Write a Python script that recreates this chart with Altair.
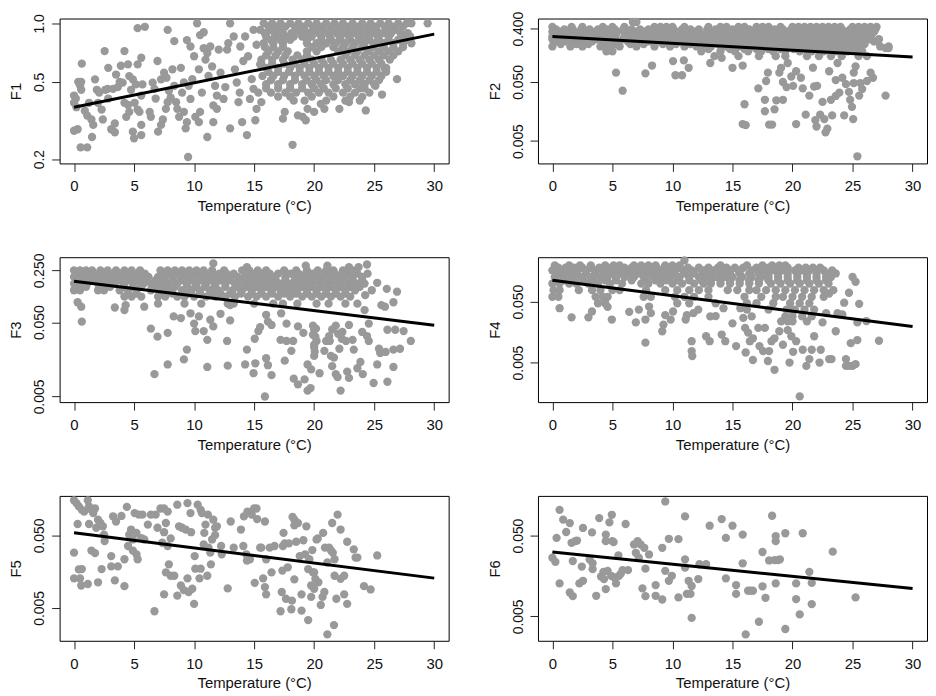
import altair as alt
import pandas as pd

TEMP_TICKS = [0, 5, 10, 15, 20, 25, 30]
TEMP_DOMAIN = [-1.2, 31.2]

# ---------------- F1 ----------------
F1_points = [
    (0.0, 0.28), (0.3, 0.285), (0.0, 0.425), (0.0, 0.39), (0.15, 0.41), (0.2, 0.37), (0.35, 0.5), (0.6, 0.5),
    (0.5, 0.48), (0.6, 0.455), (0.65, 0.62), (0.55, 0.23), (1.1, 0.23), (0.9, 0.355), (1.1, 0.335), (1.25, 0.39),
    (1.5, 0.26), (1.45, 0.32), (1.6, 0.3), (1.75, 0.515), (1.9, 0.455), (2.1, 0.44), (2.0, 0.39), (2.3, 0.36),
    (2.4, 0.32), (2.55, 0.72), (2.6, 0.455), (2.85, 0.41), (2.8, 0.46), (2.85, 0.59), (3.1, 0.285), (3.4, 0.275),
    (3.4, 0.305), (3.25, 0.46), (3.5, 0.545), (3.65, 0.47), (3.8, 0.5), (4.05, 0.495), (4.2, 0.72), (4.5, 0.615),
    (3.9, 0.605), (4.2, 0.39), (4.35, 0.33), (4.5, 0.38), (4.6, 0.35), (4.6, 0.535), (4.9, 0.515), (5.15, 0.485),
    (4.75, 0.455), (4.9, 0.277), (5.0, 0.256), (5.6, 0.266), (5.05, 0.39), (5.3, 0.36), (5.45, 0.35), (5.6, 0.3),
    (5.3, 0.945), (5.9, 0.96), (5.3, 0.615), (5.6, 0.665), (5.7, 0.485), (5.6, 0.425),
    (6.3, 0.35), (6.4, 0.33), (6.55, 0.495), (6.7, 0.46), (6.8, 0.41), (6.95, 0.64), (7.0, 0.277), (7.25, 0.3),
    (7.4, 0.32), (7.25, 0.515), (7.5, 0.557), (7.7, 0.525), (7.65, 0.363), (7.8, 0.393), (8.05, 0.415), (7.8, 0.925),
    (7.9, 0.45), (8.2, 0.58), (8.35, 0.477), (8.35, 0.81), (8.5, 0.393), (8.6, 0.363), (8.75, 0.33), (8.9, 0.59),
    (9.0, 0.44), (9.15, 0.496), (9.15, 0.35), (9.3, 0.288), (9.4, 0.31), (9.4, 0.82), (9.7, 0.76), (9.55, 0.477),
    (9.7, 0.408), (9.85, 0.516), (9.5, 0.205), (10.0, 0.677), (10.25, 1.0), (10.1, 0.33), (10.4, 0.31), (10.5, 0.35),
    (10.4, 0.58), (10.5, 0.87), (10.8, 0.9), (10.65, 0.44), (10.8, 0.745), (10.95, 0.651), (11.1, 0.704), (11.1, 0.26),
    (11.2, 0.536), (11.35, 0.76), (11.5, 0.6), (11.6, 0.31), (11.6, 0.378), (11.9, 0.363), (11.75, 0.477), (12.05, 0.732),
    (12.2, 0.557), (11.9, 0.425),
    (12.45, 0.408), (12.6, 0.47), (12.75, 0.732), (13.0, 1.0), (12.85, 0.79), (13.0, 0.288), (13.3, 0.856), (13.4, 0.58),
    (13.55, 0.496), (13.7, 0.393), (13.8, 0.44), (13.85, 0.76), (14.0, 0.31), (14.1, 0.64), (14.25, 0.856), (14.4, 0.266),
    (14.5, 0.677), (14.65, 0.408), (14.8, 0.516), (14.95, 0.46), (14.95, 0.925), (15.1, 0.317), (15.2, 0.776), (15.35, 0.44),
    (15.5, 0.615), (15.2, 0.363), (15.6, 0.393),
    (17.4, 0.323), (17.55, 0.35), (18.2, 0.237), (18.65, 0.336), (19.05, 0.33), (19.3, 0.317), (19.45, 0.363), (20.0, 0.35),
    (20.55, 0.385), (20.85, 0.363), (22.1, 0.363), (22.9, 0.393), (24.3, 0.356), (24.0, 0.418), (25.65, 0.43), (26.9, 0.516),
    (25.1, 0.477), (25.9, 0.58), (29.45, 1.0),
    (15.8, 1.0), (16.5, 1.0), (17.2, 1.0), (18.0, 1.0), (18.7, 1.0), (19.5, 1.0), (20.2, 1.0), (21.0, 1.0), (21.7, 1.0),
    (22.4, 1.0), (23.2, 1.0), (24.0, 1.0), (24.7, 1.0), (25.5, 1.0), (26.2, 1.0), (27.0, 1.0), (27.7, 1.0), (28.1, 1.0),
    (16.2, 0.962), (16.9, 0.962), (17.6, 0.962), (18.4, 0.962), (19.1, 0.962), (19.9, 0.962), (20.6, 0.962), (21.4, 0.962),
    (22.1, 0.962), (22.8, 0.962), (23.6, 0.962), (24.4, 0.962), (25.1, 0.962), (25.9, 0.962), (26.6, 0.962), (27.4, 0.962),
    (15.5, 0.925), (16.3, 0.925), (17.0, 0.925), (18.5, 0.925), (19.2, 0.925), (20.0, 0.925), (20.8, 0.925), (21.5, 0.925),
    (22.2, 0.925), (23.0, 0.925), (23.8, 0.925), (24.5, 0.925), (25.2, 0.925), (26.0, 0.925), (26.8, 0.925),
    (15.9, 0.89), (16.7, 0.89), (17.4, 0.89), (18.1, 0.89), (18.9, 0.89), (19.6, 0.89), (20.4, 0.89), (21.2, 0.89),
    (21.9, 0.89), (22.6, 0.89), (23.4, 0.89), (24.2, 0.89), (24.9, 0.89), (25.7, 0.89), (26.4, 0.89), (27.2, 0.89), (27.8, 0.89),
    (16.0, 0.856), (16.8, 0.856), (17.6, 0.856), (18.3, 0.856), (19.0, 0.856), (19.8, 0.856), (20.6, 0.856), (21.3, 0.856),
    (22.1, 0.856), (22.9, 0.856), (23.7, 0.856), (24.4, 0.856), (25.3, 0.856), (26.2, 0.856), (27.3, 0.856), (28.0, 0.856),
    (16.4, 0.823), (17.2, 0.823), (18.0, 0.823), (19.4, 0.823), (20.6, 0.823), (21.4, 0.823), (22.2, 0.823),
    (23.0, 0.823), (23.8, 0.823), (24.6, 0.823), (25.4, 0.823), (26.2, 0.823), (27.0, 0.823), (27.8, 0.823),
    (15.8, 0.79), (16.6, 0.79), (17.4, 0.79), (19.4, 0.79), (20.2, 0.79), (21.0, 0.79), (21.8, 0.79),
    (22.6, 0.79), (23.4, 0.79), (24.2, 0.79), (25.0, 0.79), (25.8, 0.79), (26.6, 0.79), (27.4, 0.79), (28.1, 0.79),
    (15.9, 0.754), (16.6, 0.754), (17.4, 0.754), (19.8, 0.754), (20.6, 0.754), (21.6, 0.754), (22.4, 0.754),
    (23.2, 0.754), (24.0, 0.754), (24.9, 0.754), (25.8, 0.754), (26.6, 0.754), (27.4, 0.754),
    (16.2, 0.718), (17.0, 0.718), (17.8, 0.718), (19.4, 0.718), (20.2, 0.718), (22.0, 0.718),
    (22.8, 0.718), (23.6, 0.718), (24.5, 0.718), (25.4, 0.718), (26.2, 0.718), (27.0, 0.718),
    (16.0, 0.684), (16.8, 0.684), (17.6, 0.684), (18.6, 0.684), (19.4, 0.684), (22.6, 0.684),
    (23.4, 0.684), (24.2, 0.684), (25.0, 0.684), (25.8, 0.684), (26.6, 0.684),
    (15.6, 0.651), (16.5, 0.651), (17.4, 0.651), (18.2, 0.651), (19.0, 0.651), (19.8, 0.651), (20.6, 0.651), (21.4, 0.651),
    (22.2, 0.651), (23.0, 0.651), (23.8, 0.651), (24.6, 0.651), (25.4, 0.651), (26.3, 0.651),
    (15.6, 0.62), (16.5, 0.62), (17.5, 0.62), (18.4, 0.62), (19.2, 0.62), (20.0, 0.62), (20.8, 0.62), (21.6, 0.62),
    (22.4, 0.62), (23.2, 0.62), (24.0, 0.62), (24.8, 0.62), (25.6, 0.62),
    (16.0, 0.59), (17.0, 0.59), (18.0, 0.59), (18.8, 0.59), (19.6, 0.59), (20.4, 0.59), (21.2, 0.59), (22.0, 0.59),
    (22.8, 0.59), (23.6, 0.59), (24.4, 0.59), (25.2, 0.59), (26.0, 0.59),
    (16.2, 0.563), (17.0, 0.563), (17.9, 0.563), (18.8, 0.563), (19.6, 0.563), (20.4, 0.563), (21.2, 0.563), (22.0, 0.563),
    (22.8, 0.563), (23.6, 0.563), (24.4, 0.563), (25.2, 0.563), (26.0, 0.563),
    (15.7, 0.536), (16.6, 0.536), (17.5, 0.536), (18.4, 0.536), (19.2, 0.536), (20.0, 0.536), (20.8, 0.536), (21.6, 0.536),
    (22.4, 0.536), (23.2, 0.536), (24.0, 0.536), (24.8, 0.536), (25.6, 0.536),
    (16.4, 0.51), (17.4, 0.51), (18.4, 0.51), (19.4, 0.51), (20.2, 0.51), (21.0, 0.51), (22.0, 0.51), (23.0, 0.51),
    (23.8, 0.51), (24.6, 0.51), (25.4, 0.51),
    (16.0, 0.486), (17.0, 0.486), (18.0, 0.486), (19.0, 0.486), (19.8, 0.486), (20.6, 0.486), (21.6, 0.486), (22.6, 0.486),
    (23.4, 0.486), (24.2, 0.486), (25.0, 0.486),
    (16.0, 0.463), (17.0, 0.463), (18.0, 0.463), (19.0, 0.463), (20.0, 0.463), (20.8, 0.463), (21.8, 0.463), (22.8, 0.463),
    (23.8, 0.463), (24.2, 0.463),
    (16.4, 0.44), (17.6, 0.44), (18.5, 0.44), (19.5, 0.44), (20.4, 0.44), (21.2, 0.44), (22.4, 0.44), (23.4, 0.44), (24.6, 0.44),
    (17.0, 0.42), (18.0, 0.42), (19.8, 0.42), (21.6, 0.42), (23.0, 0.42),
    (18.3, 0.40), (19.2, 0.40), (21.0, 0.40), (22.6, 0.40), (23.8, 0.40),
]
F1_fit = [0.37, 0.88]

# ---------------- F2 ----------------
F2_points = [
    (5.3, 0.072), (5.85, 0.0356), (7.75, 0.07), (8.3, 0.095), (10.05, 0.113), (10.25, 0.065), (10.8, 0.065), (10.95, 0.116),
    (11.35, 0.087), (13.15, 0.105), (14.1, 0.128), (15.0, 0.087), (15.85, 0.095), (16.0, 0.021), (15.85, 0.0097), (16.1, 0.0093),
    (17.15, 0.039), (17.7, 0.025), (17.7, 0.016), (17.8, 0.052), (17.95, 0.072), (18.05, 0.0095), (18.3, 0.0095), (18.5, 0.0172),
    (18.65, 0.0245), (18.9, 0.072), (19.05, 0.087), (19.2, 0.025), (19.2, 0.05), (19.5, 0.041), (19.6, 0.105), (19.9, 0.062),
    (20.05, 0.043), (20.3, 0.076), (20.3, 0.0097), (20.7, 0.059), (20.85, 0.039), (21.1, 0.014), (21.4, 0.0294), (21.7, 0.0873),
    (21.8, 0.042), (21.9, 0.0113), (22.0, 0.0088), (22.05, 0.043), (22.3, 0.014), (22.5, 0.023), (22.65, 0.0118), (22.75, 0.007),
    (22.9, 0.0081), (23.05, 0.076), (23.2, 0.025), (23.3, 0.0136), (23.6, 0.029), (23.6, 0.054), (23.75, 0.105), (23.9, 0.033),
    (24.15, 0.059), (24.3, 0.0136), (24.45, 0.046), (24.7, 0.034), (24.8, 0.025), (24.95, 0.019), (25.05, 0.0118), (25.1, 0.048),
    (25.1, 0.072), (25.25, 0.092), (25.4, 0.00276), (25.55, 0.0294), (25.65, 0.048), (25.8, 0.038), (26.2, 0.052), (26.5, 0.072),
    (26.7, 0.059), (27.75, 0.0294), (27.75, 0.188), (28.0, 0.188),
    (6.7, 0.52), (7.0, 0.52),
    (0.0, 0.43), (1.6, 0.43), (2.5, 0.43), (4.2, 0.43), (5.0, 0.43), (6.0, 0.43), (8.5, 0.43), (9.0, 0.43), (9.5, 0.43),
    (10.0, 0.43), (11.0, 0.43), (13.0, 0.43), (14.0, 0.43), (14.5, 0.43), (15.5, 0.43), (16.0, 0.43), (17.0, 0.43), (17.5, 0.43),
    (18.0, 0.43), (19.0, 0.43), (20.0, 0.43), (20.5, 0.43), (21.0, 0.43), (21.5, 0.43), (22.0, 0.43), (22.5, 0.43), (23.0, 0.43),
    (23.5, 0.43), (24.0, 0.43), (25.0, 0.43), (25.5, 0.43), (26.0, 0.43), (26.5, 0.43), (27.0, 0.43),
    (0.3, 0.39), (1.0, 0.39), (1.7, 0.39), (2.4, 0.39), (3.1, 0.39), (3.8, 0.39), (4.5, 0.39), (5.2, 0.39), (5.9, 0.39),
    (6.6, 0.39), (7.3, 0.39), (8.0, 0.39), (8.7, 0.39), (9.4, 0.39), (10.1, 0.39), (10.8, 0.39), (11.5, 0.39), (12.2, 0.39),
    (12.9, 0.39), (13.6, 0.39), (14.3, 0.39), (15.0, 0.39), (15.7, 0.39), (16.4, 0.39), (17.1, 0.39), (17.8, 0.39),
    (18.5, 0.39), (19.2, 0.39), (19.9, 0.39), (20.6, 0.39), (21.3, 0.39), (22.0, 0.39), (22.7, 0.39), (23.4, 0.39),
    (24.1, 0.39), (24.8, 0.39), (25.5, 0.39), (26.2, 0.39), (26.9, 0.39),
    (0.0, 0.356), (0.6, 0.356), (1.2, 0.356), (1.8, 0.356), (2.4, 0.356), (3.0, 0.356), (3.6, 0.356), (4.2, 0.356), (4.8, 0.356),
    (5.4, 0.356), (6.0, 0.356), (7.0, 0.356), (7.6, 0.356), (8.2, 0.356), (8.8, 0.356), (9.4, 0.356), (10.0, 0.356), (10.6, 0.356),
    (11.2, 0.356), (11.8, 0.356), (13.0, 0.356), (13.6, 0.356), (14.2, 0.356), (14.8, 0.356), (15.4, 0.356), (16.0, 0.356),
    (16.6, 0.356), (17.2, 0.356), (17.8, 0.356), (18.4, 0.356), (19.0, 0.356), (19.6, 0.356), (20.2, 0.356), (20.8, 0.356),
    (21.4, 0.356), (22.0, 0.356), (22.6, 0.356), (23.2, 0.356), (23.8, 0.356), (24.4, 0.356), (25.0, 0.356), (25.6, 0.356),
    (26.2, 0.356), (26.8, 0.356),
    (0.4, 0.32), (1.1, 0.32), (1.8, 0.32), (2.5, 0.32), (3.2, 0.32), (3.9, 0.32), (4.6, 0.32), (5.3, 0.32), (6.5, 0.32),
    (7.5, 0.32), (8.4, 0.32), (9.1, 0.32), (9.8, 0.32), (10.5, 0.32), (11.2, 0.32), (11.9, 0.32), (12.6, 0.32), (13.3, 0.32),
    (14.0, 0.32), (14.7, 0.32), (15.4, 0.32), (16.1, 0.32), (16.8, 0.32), (17.5, 0.32), (18.2, 0.32), (18.9, 0.32),
    (19.6, 0.32), (20.3, 0.32), (21.0, 0.32), (21.7, 0.32), (22.4, 0.32), (23.1, 0.32), (23.8, 0.32), (24.5, 0.32),
    (25.2, 0.32), (25.9, 0.32), (26.6, 0.32),
    (0.0, 0.294), (0.7, 0.294), (1.4, 0.294), (2.1, 0.294), (2.8, 0.294), (3.5, 0.294), (4.2, 0.294), (4.9, 0.294), (6.0, 0.294),
    (7.0, 0.294), (8.0, 0.294), (8.7, 0.294), (9.4, 0.294), (10.1, 0.294), (10.8, 0.294), (11.5, 0.294), (12.2, 0.294),
    (13.0, 0.294), (13.7, 0.294), (14.4, 0.294), (15.1, 0.294), (15.8, 0.294), (16.5, 0.294), (17.2, 0.294), (17.9, 0.294),
    (18.6, 0.294), (19.3, 0.294), (20.0, 0.294), (20.7, 0.294), (21.4, 0.294), (22.1, 0.294), (22.8, 0.294), (23.5, 0.294),
    (24.2, 0.294), (24.9, 0.294), (25.6, 0.294), (26.3, 0.294),
    (0.0, 0.265), (0.8, 0.265), (1.7, 0.265), (2.6, 0.265), (3.6, 0.265), (4.5, 0.265), (5.0, 0.265), (5.9, 0.265),
    (6.7, 0.265), (7.6, 0.265), (8.4, 0.265), (9.3, 0.265), (10.2, 0.265), (11.1, 0.265), (12.0, 0.265), (12.9, 0.265),
    (13.8, 0.265), (14.7, 0.265), (15.6, 0.265), (16.5, 0.265), (17.4, 0.265), (18.3, 0.265), (19.2, 0.265), (20.1, 0.265),
    (21.0, 0.265), (21.9, 0.265), (22.8, 0.265), (23.7, 0.265), (24.6, 0.265), (25.5, 0.265), (26.4, 0.265), (27.2, 0.265),
    (0.3, 0.243), (1.2, 0.243), (2.2, 0.243), (3.3, 0.243), (4.1, 0.243), (5.5, 0.243), (6.3, 0.243), (7.2, 0.243), (8.0, 0.243),
    (8.9, 0.243), (9.8, 0.243), (10.7, 0.243), (11.6, 0.243), (12.5, 0.243), (13.4, 0.243), (14.3, 0.243), (15.2, 0.243),
    (16.1, 0.243), (17.0, 0.243), (17.9, 0.243), (18.8, 0.243), (19.7, 0.243), (20.6, 0.243), (21.5, 0.243), (22.4, 0.243),
    (23.3, 0.243), (24.2, 0.243), (25.1, 0.243), (26.0, 0.243), (26.8, 0.243),
    (0.7, 0.22), (2.0, 0.22), (3.0, 0.22), (4.4, 0.22), (5.2, 0.22), (6.5, 0.22), (7.6, 0.22), (9.2, 0.22), (10.3, 0.22),
    (11.5, 0.22), (12.6, 0.22), (13.8, 0.22), (15.0, 0.22), (16.0, 0.22), (17.1, 0.22), (18.2, 0.22), (19.3, 0.22),
    (20.3, 0.22), (21.3, 0.22), (22.3, 0.22), (23.3, 0.22), (24.2, 0.22), (25.1, 0.22), (26.0, 0.22),
    (0.0, 0.2), (1.5, 0.2), (2.5, 0.2), (4.0, 0.2), (4.8, 0.2), (5.6, 0.2), (7.0, 0.2), (8.5, 0.2), (9.8, 0.2), (11.0, 0.2),
    (12.0, 0.2), (13.2, 0.2), (14.5, 0.2), (15.5, 0.2), (16.6, 0.2), (17.6, 0.2), (18.8, 0.2), (19.8, 0.2), (20.8, 0.2),
    (21.8, 0.2), (22.8, 0.2), (23.8, 0.2), (24.6, 0.2), (25.6, 0.2), (27.3, 0.2), (28.0, 0.2),
    (13.0, 0.18), (14.8, 0.18), (16.0, 0.18), (17.0, 0.18), (18.0, 0.18), (19.0, 0.18), (20.1, 0.18), (21.1, 0.18),
    (22.1, 0.18), (23.1, 0.18), (24.1, 0.18), (25.2, 0.18),
    (4.5, 0.166), (5.0, 0.166), (12.4, 0.166), (14.0, 0.166), (15.2, 0.166), (16.3, 0.166), (17.4, 0.166), (18.4, 0.166),
    (19.4, 0.166), (20.6, 0.166), (21.6, 0.166), (22.6, 0.166), (23.6, 0.166), (24.6, 0.166), (25.8, 0.166),
    (13.5, 0.137), (15.5, 0.137), (17.2, 0.137), (18.6, 0.137), (19.4, 0.137), (21.2, 0.137), (22.2, 0.137), (23.2, 0.137),
    (24.1, 0.137), (25.5, 0.137), (26.2, 0.137),
]
F2_fit = [0.294, 0.133]

# ---------------- F3 ----------------
F3_points = [
    (0.3, 0.093), (0.6, 0.081), (0.65, 0.051), (3.4, 0.079), (4.2, 0.073), (4.3, 0.085), (5.85, 0.081), (6.4, 0.041),
    (6.7, 0.01), (6.95, 0.032), (7.8, 0.036), (7.8, 0.0135), (8.3, 0.06), (8.9, 0.057), (9.15, 0.0158), (9.4, 0.0214),
    (9.7, 0.066), (10.0, 0.048), (10.1, 0.038), (10.4, 0.06), (10.8, 0.038), (11.1, 0.029), (11.1, 0.0125), (11.35, 0.054),
    (11.6, 0.044), (12.2, 0.065), (12.75, 0.028), (12.8, 0.013), (13.0, 0.053), (13.0, 0.085), (14.25, 0.0135), (14.4, 0.0214),
    (15.05, 0.03), (14.95, 0.0103), (15.1, 0.014), (15.35, 0.038), (15.5, 0.043), (15.9, 0.005), (16.0, 0.063), (16.0, 0.0164),
    (16.15, 0.051), (16.15, 0.0132), (16.45, 0.046), (16.45, 0.0097), (17.2, 0.029), (17.25, 0.066), (17.55, 0.0152),
    (17.7, 0.048), (17.7, 0.028), (18.1, 0.0206), (18.25, 0.028), (18.3, 0.0087), (18.65, 0.0073), (18.65, 0.044),
    (19.1, 0.036), (19.2, 0.0085), (19.45, 0.0135), (19.45, 0.006), (19.7, 0.0065), (19.75, 0.0116), (19.9, 0.034),
    (20.0, 0.025), (20.0, 0.0176), (20.15, 0.041), (20.45, 0.0103), (20.85, 0.0206), (21.0, 0.028), (21.25, 0.0326),
    (21.4, 0.0176), (21.5, 0.0128), (21.65, 0.0167), (21.8, 0.01), (21.95, 0.0091), (22.2, 0.006), (22.1, 0.022),
    (22.35, 0.037), (22.65, 0.028), (22.75, 0.0108), (22.9, 0.046), (22.9, 0.0089), (23.2, 0.029), (23.3, 0.0214),
    (23.6, 0.012), (23.85, 0.0146), (24.0, 0.037), (24.05, 0.01), (24.4, 0.0326), (24.55, 0.048), (24.55, 0.028),
    (24.95, 0.0076), (25.25, 0.0135), (25.4, 0.022), (25.5, 0.0193), (25.95, 0.0199), (26.1, 0.0079), (26.1, 0.0396),
    (26.6, 0.0125), (26.6, 0.0214), (26.75, 0.0396), (27.15, 0.022), (27.45, 0.038), (28.05, 0.028),
    (26.05, 0.141), (26.9, 0.129), (26.6, 0.093), (25.6, 0.085), (25.9, 0.081), (25.25, 0.17), (24.45, 0.226), (24.4, 0.3),
    (23.7, 0.277), (23.45, 0.166), (24.25, 0.116), (24.2, 0.073), (22.9, 0.277), (21.1, 0.29), (20.4, 0.226), (19.3, 0.29),
    (17.0, 0.226), (14.4, 0.277), (11.6, 0.31),
    (20.0, 0.04), (20.1, 0.032), (19.9, 0.045), (20.2, 0.028), (20.0, 0.023), (20.05, 0.02), (21.5, 0.04), (21.8, 0.045),
    (22.0, 0.035), (21.3, 0.028), (22.3, 0.03),
    (0.0, 0.25), (0.5, 0.25), (1.0, 0.25), (1.5, 0.25), (2.2, 0.25), (2.8, 0.25), (3.5, 0.25), (4.2, 0.25), (4.8, 0.25),
    (5.5, 0.25), (7.2, 0.25), (7.8, 0.25), (8.4, 0.25), (9.0, 0.25), (9.6, 0.25), (10.2, 0.25), (10.8, 0.25), (11.5, 0.25),
    (12.5, 0.25), (14.0, 0.25), (14.6, 0.25), (15.3, 0.25), (16.0, 0.25), (17.5, 0.25), (18.5, 0.25), (19.4, 0.25),
    (20.3, 0.25), (21.0, 0.25), (21.6, 0.25), (22.4, 0.25), (23.2, 0.25),
    (0.3, 0.226), (0.9, 0.226), (1.5, 0.226), (2.1, 0.226), (2.7, 0.226), (3.3, 0.226), (3.9, 0.226), (4.6, 0.226),
    (5.3, 0.226), (5.9, 0.226), (7.3, 0.226), (7.9, 0.226), (8.5, 0.226), (9.1, 0.226), (9.7, 0.226), (10.3, 0.226),
    (10.9, 0.226), (11.5, 0.226), (12.1, 0.226), (12.7, 0.226), (13.3, 0.226), (14.5, 0.226), (15.1, 0.226), (15.7, 0.226),
    (16.3, 0.226), (18.0, 0.226), (18.7, 0.226), (19.3, 0.226), (19.9, 0.226), (20.5, 0.226), (21.1, 0.226),
    (21.7, 0.226), (22.3, 0.226), (22.9, 0.226), (23.6, 0.226),
    (0.0, 0.204), (0.6, 0.204), (1.2, 0.204), (1.8, 0.204), (2.4, 0.204), (3.0, 0.204), (3.6, 0.204), (4.3, 0.204), (5.0, 0.204),
    (5.6, 0.204), (6.2, 0.204), (7.0, 0.204), (7.6, 0.204), (8.2, 0.204), (8.8, 0.204), (9.4, 0.204), (10.0, 0.204),
    (10.6, 0.204), (11.2, 0.204), (11.8, 0.204), (12.4, 0.204), (13.0, 0.204), (13.6, 0.204), (14.2, 0.204), (14.8, 0.204),
    (15.4, 0.204), (16.0, 0.204), (16.6, 0.204), (17.6, 0.204), (18.4, 0.204), (19.0, 0.204), (19.6, 0.204), (20.2, 0.204),
    (20.8, 0.204), (21.4, 0.204), (22.0, 0.204), (22.6, 0.204), (23.2, 0.204), (24.0, 0.204),
    (0.3, 0.184), (0.8, 0.184), (1.5, 0.184), (2.3, 0.184), (3.0, 0.184), (3.8, 0.184), (4.6, 0.184), (5.4, 0.184),
    (6.0, 0.184), (6.8, 0.184), (7.4, 0.184), (8.2, 0.184), (9.0, 0.184), (9.8, 0.184), (10.6, 0.184), (11.4, 0.184),
    (12.2, 0.184), (13.0, 0.184), (13.8, 0.184), (14.6, 0.184), (15.3, 0.184), (16.0, 0.184), (16.8, 0.184), (17.6, 0.184),
    (18.4, 0.184), (19.2, 0.184), (20.0, 0.184), (20.8, 0.184), (21.6, 0.184), (22.4, 0.184), (23.2, 0.184), (24.0, 0.184),
    (0.0, 0.166), (0.5, 0.166), (1.1, 0.166), (2.0, 0.166), (2.6, 0.166), (3.4, 0.166), (4.2, 0.166), (5.0, 0.166), (5.8, 0.166),
    (6.4, 0.166), (7.2, 0.166), (7.8, 0.166), (8.6, 0.166), (9.4, 0.166), (10.2, 0.166), (11.0, 0.166), (11.8, 0.166),
    (12.6, 0.166), (13.4, 0.166), (14.2, 0.166), (15.0, 0.166), (15.7, 0.166), (16.4, 0.166), (17.2, 0.166), (18.0, 0.166),
    (18.8, 0.166), (19.6, 0.166), (20.4, 0.166), (21.2, 0.166), (22.0, 0.166), (22.8, 0.166), (23.5, 0.166), (24.2, 0.166),
    (0.2, 0.15), (1.0, 0.15), (2.2, 0.15), (3.0, 0.15), (4.1, 0.15), (4.9, 0.15), (5.6, 0.15), (6.8, 0.15), (7.6, 0.15),
    (8.4, 0.15), (9.4, 0.15), (10.1, 0.15), (10.9, 0.15), (11.7, 0.15), (12.6, 0.15), (13.6, 0.15), (14.4, 0.15),
    (15.2, 0.15), (16.0, 0.15), (16.8, 0.15), (17.6, 0.15), (18.3, 0.15), (19.0, 0.15), (19.8, 0.15), (20.6, 0.15),
    (21.4, 0.15), (22.2, 0.15), (23.0, 0.15), (23.8, 0.15),
    (0.0, 0.135), (0.5, 0.135), (2.0, 0.135), (2.5, 0.135), (3.8, 0.135), (4.5, 0.135), (5.2, 0.135), (6.4, 0.135), (7.2, 0.135),
    (8.0, 0.135), (9.0, 0.135), (9.8, 0.135), (10.5, 0.135), (11.3, 0.135), (12.0, 0.135), (13.2, 0.135), (14.0, 0.135),
    (14.8, 0.135), (15.6, 0.135), (16.4, 0.135), (17.2, 0.135), (18.0, 0.135), (18.6, 0.135), (19.4, 0.135), (20.2, 0.135),
    (21.0, 0.135), (21.8, 0.135), (22.6, 0.135), (23.4, 0.135), (24.8, 0.135),
    (4.5, 0.122), (5.2, 0.122), (7.3, 0.122), (8.2, 0.122), (9.5, 0.122), (10.5, 0.122), (11.4, 0.122), (12.2, 0.122),
    (13.0, 0.122), (13.9, 0.122), (14.8, 0.122), (15.6, 0.122), (16.5, 0.122), (17.5, 0.122), (18.5, 0.122), (19.4, 0.122),
    (20.2, 0.122), (21.0, 0.122), (21.8, 0.122), (22.6, 0.122),
    (4.2, 0.111), (4.8, 0.111), (5.6, 0.111), (7.0, 0.111), (7.6, 0.111), (8.6, 0.111), (9.2, 0.111), (10.0, 0.111), (11.0, 0.111),
    (11.8, 0.111), (12.6, 0.111), (13.4, 0.111), (14.5, 0.111), (15.2, 0.111), (16.0, 0.111), (17.0, 0.111), (18.0, 0.111),
    (19.0, 0.111), (19.8, 0.111), (20.6, 0.111), (21.4, 0.111), (22.2, 0.111), (23.0, 0.111),
    (7.0, 0.089), (9.2, 0.089), (10.6, 0.089), (12.8, 0.089), (13.3, 0.089), (15.0, 0.089), (16.6, 0.089), (17.4, 0.089),
    (18.6, 0.089), (20.2, 0.089), (21.2, 0.089), (22.6, 0.089), (23.6, 0.089),
]
F3_fit = [0.178, 0.0456]

# ---------------- F4 ----------------
F4_points = [
    (0.6, 0.039), (1.6, 0.0276), (3.0, 0.0276), (3.3, 0.0344), (4.95, 0.0254), (4.6, 0.041), (6.4, 0.034), (6.95, 0.0228),
    (7.2, 0.037), (7.75, 0.0106), (7.75, 0.0254), (8.05, 0.0415), (8.2, 0.0323), (9.15, 0.0163), (9.25, 0.021), (9.4, 0.030),
    (9.85, 0.0254), (10.05, 0.0344), (11.1, 0.0254), (11.2, 0.030), (11.6, 0.0112), (11.6, 0.0077), (11.65, 0.0064),
    (11.75, 0.0323), (12.15, 0.037), (12.8, 0.0135), (13.1, 0.0112), (13.15, 0.0286), (13.6, 0.029), (14.1, 0.0144),
    (14.4, 0.0112), (14.25, 0.039), (15.0, 0.022), (15.3, 0.0093), (15.65, 0.039), (15.9, 0.027), (16.05, 0.0185),
    (16.1, 0.0073), (16.3, 0.0155), (16.45, 0.0112), (16.7, 0.0055), (16.7, 0.0125), (17.15, 0.0185), (17.25, 0.0093),
    (17.55, 0.0077), (17.7, 0.0185), (17.95, 0.0053), (18.05, 0.0077), (18.25, 0.0112), (18.5, 0.0038), (18.5, 0.0125),
    (18.9, 0.0163), (19.05, 0.0237), (19.2, 0.0098), (19.6, 0.017), (19.75, 0.005), (19.9, 0.0135), (20.05, 0.0075),
    (20.3, 0.0112), (20.6, 0.00139), (20.85, 0.0081), (21.15, 0.0044), (21.4, 0.0057), (21.6, 0.0081), (21.8, 0.0135),
    (22.25, 0.005), (22.35, 0.0081), (22.5, 0.0228), (22.8, 0.0323), (23.05, 0.0057), (23.25, 0.0057), (23.6, 0.0163),
    (23.75, 0.0323), (24.45, 0.0057), (24.45, 0.0044), (24.7, 0.0044), (24.85, 0.0104), (25.0, 0.0044), (25.25, 0.0047),
    (25.4, 0.0117), (25.55, 0.046), (25.4, 0.0228), (26.15, 0.024), (27.2, 0.0114), (24.7, 0.070), (25.0, 0.127),
    (25.25, 0.106), (24.3, 0.048), (24.15, 0.0308), (23.2, 0.127), (23.05, 0.068), (11.0, 0.237),
    (0.2, 0.197), (1.4, 0.197), (2.3, 0.197), (3.2, 0.197), (4.4, 0.197), (5.1, 0.197), (5.6, 0.197), (6.8, 0.197), (7.4, 0.197),
    (8.0, 0.197), (8.6, 0.197), (9.4, 0.197), (10.0, 0.197), (10.6, 0.197), (14.0, 0.197), (16.2, 0.197), (17.5, 0.197),
    (18.3, 0.197), (18.9, 0.197), (19.4, 0.197),
    (0.5, 0.18), (1.1, 0.18), (1.8, 0.18), (2.5, 0.18), (3.2, 0.18), (3.9, 0.18), (4.6, 0.18), (5.3, 0.18), (6.0, 0.18),
    (6.6, 0.18), (7.3, 0.18), (7.9, 0.18), (8.6, 0.18), (9.3, 0.18), (9.9, 0.18), (10.6, 0.18), (11.3, 0.18), (12.2, 0.18),
    (13.0, 0.18), (13.8, 0.18), (14.5, 0.18), (15.2, 0.18), (15.9, 0.18), (17.0, 0.18), (18.0, 0.18), (18.8, 0.18),
    (19.6, 0.18), (20.5, 0.18), (21.1, 0.18), (21.7, 0.18), (22.3, 0.18),
    (0.0, 0.163), (0.7, 0.163), (1.5, 0.163), (2.1, 0.163), (2.8, 0.163), (3.5, 0.163), (4.2, 0.163), (4.9, 0.163), (5.5, 0.163),
    (6.2, 0.163), (7.0, 0.163), (7.6, 0.163), (8.2, 0.163), (8.9, 0.163), (9.6, 0.163), (10.2, 0.163), (10.9, 0.163),
    (11.6, 0.163), (12.6, 0.163), (13.4, 0.163), (14.2, 0.163), (14.8, 0.163), (15.5, 0.163), (16.6, 0.163), (17.6, 0.163),
    (18.5, 0.163), (19.2, 0.163), (20.2, 0.163), (20.8, 0.163), (21.4, 0.163), (22.0, 0.163), (22.6, 0.163), (23.3, 0.163),
    (0.4, 0.145), (1.2, 0.145), (2.0, 0.145), (2.8, 0.145), (3.6, 0.145), (4.3, 0.145), (5.0, 0.145), (5.7, 0.145),
    (6.4, 0.145), (7.2, 0.145), (8.0, 0.145), (8.7, 0.145), (9.4, 0.145), (10.2, 0.145), (11.0, 0.145), (11.8, 0.145),
    (12.5, 0.145), (13.2, 0.145), (14.0, 0.145), (14.8, 0.145), (15.6, 0.145), (16.4, 0.145), (17.2, 0.145), (18.0, 0.145),
    (18.8, 0.145), (19.6, 0.145), (20.4, 0.145), (21.2, 0.145), (22.0, 0.145), (22.8, 0.145), (23.6, 0.145),
    (0.2, 0.127), (0.9, 0.127), (1.6, 0.127), (2.4, 0.127), (3.2, 0.127), (4.0, 0.127), (4.6, 0.127), (5.3, 0.127), (6.0, 0.127),
    (6.8, 0.127), (7.6, 0.127), (8.4, 0.127), (9.0, 0.127), (9.8, 0.127), (10.6, 0.127), (11.4, 0.127), (12.2, 0.127),
    (12.8, 0.127), (13.6, 0.127), (14.4, 0.127), (15.0, 0.127), (15.8, 0.127), (16.6, 0.127), (17.4, 0.127), (18.0, 0.127),
    (18.8, 0.127), (19.6, 0.127), (20.4, 0.127), (21.2, 0.127), (22.0, 0.127), (22.8, 0.127),
    (0.3, 0.112), (1.0, 0.112), (1.8, 0.112), (2.6, 0.112), (3.4, 0.112), (4.4, 0.112), (5.3, 0.112), (6.6, 0.112),
    (7.8, 0.112), (8.6, 0.112), (9.5, 0.112), (10.4, 0.112), (11.4, 0.112), (12.4, 0.112), (13.2, 0.112), (14.0, 0.112),
    (14.8, 0.112), (15.6, 0.112), (16.4, 0.112), (17.2, 0.112), (18.0, 0.112), (18.8, 0.112), (19.6, 0.112), (20.4, 0.112),
    (21.2, 0.112), (22.0, 0.112), (22.8, 0.112),
    (0.0, 0.099), (0.6, 0.099), (1.4, 0.099), (2.0, 0.099), (3.0, 0.099), (3.8, 0.099), (4.8, 0.099), (5.8, 0.099), (7.4, 0.099),
    (8.0, 0.099), (9.0, 0.099), (10.0, 0.099), (10.8, 0.099), (11.8, 0.099), (12.6, 0.099), (13.2, 0.099), (14.0, 0.099),
    (14.8, 0.099), (15.6, 0.099), (16.4, 0.099), (17.2, 0.099), (18.2, 0.099), (19.0, 0.099), (19.8, 0.099), (20.6, 0.099),
    (21.4, 0.099), (22.2, 0.099), (23.0, 0.099),
    (0.1, 0.0772), (0.6, 0.0772), (2.2, 0.0772), (3.3, 0.0772), (4.0, 0.0772), (5.0, 0.0772), (5.6, 0.0772), (7.8, 0.0772),
    (9.4, 0.0772), (10.4, 0.0772), (11.4, 0.0772), (12.2, 0.0772), (13.0, 0.0772), (14.6, 0.0772), (15.4, 0.0772),
    (16.4, 0.0772), (17.0, 0.0772), (17.8, 0.0772), (18.6, 0.0772), (19.4, 0.0772), (20.2, 0.0772), (21.0, 0.0772),
    (21.8, 0.0772), (22.6, 0.0772), (23.4, 0.0772),
    (0.0, 0.060), (0.5, 0.060), (3.6, 0.060), (4.2, 0.060), (4.6, 0.060), (7.6, 0.060), (8.2, 0.060), (10.2, 0.060), (11.0, 0.060),
    (11.8, 0.060), (13.0, 0.060), (16.0, 0.060), (17.4, 0.060), (18.6, 0.060), (19.2, 0.060), (20.0, 0.060), (20.8, 0.060),
    (21.6, 0.060), (22.6, 0.060),
    (3.8, 0.047), (4.4, 0.047), (10.4, 0.047), (11.4, 0.047), (13.6, 0.047), (16.2, 0.047), (17.0, 0.047), (18.4, 0.047),
    (19.8, 0.047), (20.6, 0.047), (21.4, 0.047),
    (16.2, 0.037), (18.0, 0.037), (19.5, 0.037), (19.8, 0.037), (20.2, 0.037), (21.0, 0.037), (21.8, 0.037),
    (16.6, 0.0286), (19.4, 0.0286), (20.0, 0.0286), (20.8, 0.0286), (21.6, 0.0286),
    (19.6, 0.0237), (20.0, 0.0237), (21.2, 0.0237),
]
F4_fit = [0.1125, 0.0195]

# ---------------- F5 ----------------
F5_points = [
    (0.0, 0.153), (0.2, 0.14), (0.4, 0.126), (0.65, 0.113), (0.85, 0.107), (1.15, 0.153), (1.25, 0.126), (1.45, 0.113),
    (1.6, 0.102), (1.75, 0.118), (0.3, 0.072), (0.0, 0.029), (0.0, 0.0128), (0.4, 0.017), (0.65, 0.0172), (0.5, 0.0128),
    (0.6, 0.0102), (1.15, 0.0107), (1.25, 0.072), (1.45, 0.031), (1.75, 0.0285), (2.0, 0.0113), (1.85, 0.064),
    (2.0, 0.0826), (2.2, 0.0744), (2.4, 0.067), (2.5, 0.0515), (2.55, 0.042), (2.3, 0.0172), (3.1, 0.026), (3.1, 0.0187),
    (3.4, 0.012), (3.65, 0.0187), (3.25, 0.092), (3.5, 0.078), (3.95, 0.093), (4.2, 0.0235), (4.2, 0.01),
    (4.4, 0.124), (4.6, 0.0515), (4.75, 0.0604), (4.5, 0.0358), (4.9, 0.031), (4.9, 0.0441), (5.05, 0.102), (5.2, 0.0543),
    (5.3, 0.0235), (5.4, 0.097), (5.2, 0.0275), (5.6, 0.0461), (5.7, 0.097), (5.85, 0.0441), (6.15, 0.0707),
    (6.4, 0.097), (6.7, 0.0045), (6.8, 0.097), (6.95, 0.064), (7.2, 0.118), (7.5, 0.118), (7.35, 0.0397), (7.5, 0.0555),
    (7.5, 0.0077), (7.8, 0.107), (7.65, 0.0744), (7.65, 0.0155), (7.8, 0.0358), (7.9, 0.02), (8.05, 0.0139), (8.35, 0.0139),
    (8.05, 0.0456), (8.6, 0.133), (8.6, 0.0074), (8.75, 0.067), (8.9, 0.0102), (9.0, 0.064), (9.15, 0.0088), (9.3, 0.0604),
    (9.45, 0.14), (9.45, 0.0128), (9.55, 0.0083), (9.7, 0.102), (9.75, 0.0555), (9.85, 0.0092), (10.0, 0.0057),
    (10.05, 0.026), (10.1, 0.0174), (10.3, 0.133), (10.45, 0.0128), (10.55, 0.113), (10.55, 0.0174), (10.65, 0.102),
    (10.8, 0.0377), (10.85, 0.0543), (10.95, 0.0707), (11.1, 0.0139), (11.2, 0.034), (11.15, 0.097), (11.35, 0.029),
    (11.4, 0.02), (11.5, 0.0441), (11.6, 0.0826), (11.75, 0.064), (11.75, 0.0505), (11.9, 0.067), (12.25, 0.0358),
    (12.3, 0.0275), (12.8, 0.0093), (13.05, 0.078), (13.3, 0.034), (13.9, 0.0604), (14.1, 0.0358), (14.15, 0.0918),
    (14.35, 0.0275), (14.4, 0.0225), (14.45, 0.107), (14.65, 0.0235), (14.8, 0.097), (15.0, 0.118), (15.05, 0.0111),
    (15.2, 0.118), (15.25, 0.0843), (15.5, 0.034), (15.75, 0.0128), (15.9, 0.078), (15.9, 0.0097), (16.0, 0.0077),
    (16.0, 0.0235), (15.6, 0.034), (16.3, 0.034), (16.45, 0.0155), (16.7, 0.0358), (17.3, 0.0083), (17.2, 0.0045),
    (17.35, 0.0164), (17.4, 0.0358), (17.45, 0.0543), (17.55, 0.039), (17.65, 0.0067), (17.8, 0.0182), (17.9, 0.039),
    (18.1, 0.0048), (18.15, 0.0063), (18.2, 0.09), (18.35, 0.0826), (18.35, 0.069), (18.35, 0.0124), (18.5, 0.041),
    (18.65, 0.0744), (18.8, 0.026), (18.95, 0.0077), (18.95, 0.0046), (19.1, 0.043), (19.25, 0.0275), (19.35, 0.067),
    (19.5, 0.0034), (19.5, 0.0172), (19.6, 0.0235), (19.75, 0.0071), (19.75, 0.0102), (19.85, 0.0315), (19.9, 0.0155),
    (20.0, 0.0155), (20.1, 0.0126), (20.0, 0.0092), (20.2, 0.0441), (20.3, 0.0456), (20.35, 0.0113), (20.55, 0.0055),
    (20.7, 0.0071), (20.75, 0.0543), (20.85, 0.0083), (20.9, 0.034), (21.1, 0.0212), (21.1, 0.00216), (21.25, 0.034),
    (21.4, 0.031), (21.55, 0.029), (21.7, 0.0235), (21.7, 0.0139), (21.65, 0.0029), (21.5, 0.0744), (21.85, 0.0067),
    (21.95, 0.097), (22.2, 0.0604), (22.2, 0.0126), (22.5, 0.0139), (22.5, 0.0077), (22.75, 0.0057), (22.75, 0.041),
    (23.3, 0.0322), (23.45, 0.0248), (23.6, 0.0248), (24.15, 0.01), (24.7, 0.009), (25.25, 0.0265),
]
F5_fit = [0.0544, 0.0129]

# ---------------- F6 ----------------
F6_points = [
    (0.0, 0.0266), (0.25, 0.0236), (0.35, 0.0468), (0.6, 0.104), (0.6, 0.0128), (0.9, 0.0786), (1.15, 0.0553), (1.45, 0.0713),
    (1.45, 0.0099), (1.6, 0.0407), (1.7, 0.0242), (1.7, 0.0089), (1.9, 0.0426), (2.05, 0.0434), (2.25, 0.0128), (2.45, 0.0207),
    (2.55, 0.0138), (2.55, 0.0621), (3.1, 0.0254), (3.3, 0.0547), (3.35, 0.0227), (3.35, 0.0192), (3.65, 0.009), (3.9, 0.0822),
    (4.05, 0.0156), (4.25, 0.0178), (4.3, 0.0145), (4.45, 0.0514), (4.45, 0.0426), (4.45, 0.0109), (4.6, 0.0183), (4.75, 0.0727),
    (4.9, 0.0159), (4.95, 0.0903), (5.0, 0.0426), (5.1, 0.0415), (5.15, 0.0152), (5.3, 0.0128), (5.5, 0.0284), (5.55, 0.0159),
    (5.7, 0.0169), (5.85, 0.0187), (6.1, 0.0695), (6.3, 0.0187), (6.8, 0.0388), (6.95, 0.0306), (7.1, 0.0426), (7.2, 0.0266),
    (7.35, 0.0388), (7.5, 0.0111), (7.65, 0.0353), (7.75, 0.0195), (7.75, 0.0089), (8.05, 0.0292), (8.6, 0.0122), (8.6, 0.009),
    (9.15, 0.0353), (9.15, 0.0081), (9.4, 0.132), (9.4, 0.0183), (9.7, 0.0456), (9.7, 0.0138), (9.95, 0.0159), (10.5, 0.0086),
    (10.5, 0.0451), (11.05, 0.0862), (11.05, 0.0254), (11.05, 0.0201), (11.2, 0.0095), (11.35, 0.0138), (11.5, 0.0095),
    (11.6, 0.0119), (11.6, 0.0048), (12.15, 0.0145), (12.25, 0.0221), (12.8, 0.0221), (13.1, 0.0662), (14.1, 0.0799),
    (14.45, 0.0468), (14.45, 0.0148), (15.0, 0.0662), (15.3, 0.0122), (15.3, 0.0095), (15.85, 0.0514), (15.85, 0.0227),
    (16.1, 0.003), (16.3, 0.0104), (16.5, 0.0104), (16.7, 0.0104), (17.2, 0.0043), (17.5, 0.0313), (17.5, 0.0118),
    (17.75, 0.0085), (18.05, 0.0246), (18.3, 0.0878), (18.5, 0.0248), (18.6, 0.0128), (18.6, 0.0426), (18.6, 0.0492),
    (18.8, 0.0248), (18.95, 0.0254), (19.4, 0.0035), (19.4, 0.0534), (20.3, 0.0128), (20.3, 0.0082), (20.6, 0.0053),
    (20.85, 0.0534), (21.4, 0.0178), (21.6, 0.013), (21.6, 0.0071), (23.35, 0.0316), (25.25, 0.0086),
]
F6_fit = [0.0313, 0.0111]

PANELS = [
    ("F1", F1_points, F1_fit, [0.190, 1.059], [0.2, 0.5, 1.0], ".1f"),
    ("F2", F2_points, F2_fit, [0.00209, 0.594], [0.005, 0.05, 0.4], ".3f"),
    ("F3", F3_points, F3_fit, [0.0042, 0.376], [0.005, 0.05, 0.25], ".3f"),
    ("F4", F4_points, F4_fit, [0.00112, 0.268], [0.005, 0.05], ".3f"),
    ("F5", F5_points, F5_fit, [0.00176, 0.176], [0.005, 0.05], ".3f"),
    ("F6", F6_points, F6_fit, [0.0025, 0.1546], [0.005, 0.05], ".3f"),
]


def make_panel(name, pts, fit, ydom, yticks, yfmt):
    df = pd.DataFrame(pts, columns=["temp", "val"])
    fit_df = pd.DataFrame({"temp": [0, 30], "val": fit})
    xenc = alt.X(
        "temp:Q",
        scale=alt.Scale(domain=TEMP_DOMAIN, nice=False, zero=False),
        axis=alt.Axis(values=TEMP_TICKS, format="d", title="Temperature (°C)"),
    )
    yenc = alt.Y(
        "val:Q",
        scale=alt.Scale(type="log", domain=ydom, nice=False),
        axis=alt.Axis(values=yticks, format=yfmt, title=name, labelAngle=270,
                      labelAlign="center", labelBaseline="bottom"),
    )
    pts_layer = alt.Chart(df).mark_circle(size=70, color="#999999", opacity=1).encode(x=xenc, y=yenc)
    fit_layer = alt.Chart(fit_df).mark_line(color="black", strokeWidth=3).encode(x="temp:Q", y="val:Q")
    return alt.layer(pts_layer, fit_layer).properties(width=392, height=146)


charts = [make_panel(*p) for p in PANELS]

chart = alt.concat(
    *charts, columns=2, spacing={"row": 94.5, "column": 90}, bounds="flush"
).properties(
    padding={"left": 0, "top": 0, "right": 0, "bottom": 0}
).configure_view(
    stroke="black", strokeWidth=1
).configure_axis(
    domain=False, grid=False, ticks=True, tickColor="#222222", tickSize=8, tickWidth=1,
    labelFont="Liberation Sans", labelColor="#111111",
    titleFont="Liberation Sans", titleFontSize=15, titleFontWeight="normal", titleColor="#111111",
).configure_axisX(
    labelFontSize=15, labelPadding=7.5, titlePadding=5
).configure_axisY(
    labelFontSize=14, labelPadding=5, titlePadding=9
)

chart.save("out.html", embed_options={"renderer": "svg", "actions": False})
